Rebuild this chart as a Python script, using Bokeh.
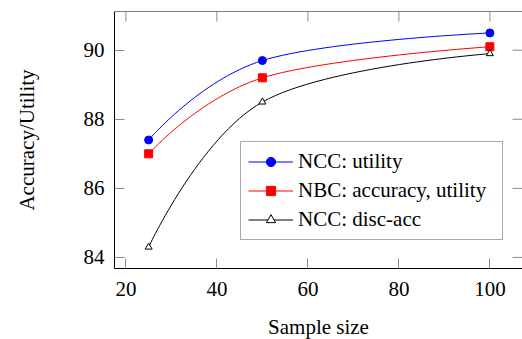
import math
from bokeh.plotting import figure
from bokeh.models import Range1d, FixedTicker, Legend, LegendItem, ColumnDataSource, Span
from bokeh.embed import file_html
from bokeh.resources import INLINE

# ---- data ----
sample_size = [25, 50, 100]
ncc_utility = [87.4, 89.7, 90.5]
nbc_acc_util = [87.0, 89.2, 90.1]
ncc_disc_acc = [84.3, 88.5, 89.9]
x_ticks = [20, 40, 60, 80, 100]
y_ticks = [84, 86, 88, 90]
series_names = ["NCC: utility", "NBC: accuracy, utility", "NCC: disc-acc"]

FONT = "Liberation Serif"
FS = "21px"
TICK_COLOR = "#8c8c8c"

x_range = Range1d(17.5, 107.17)
y_range = Range1d(83.68, 91.12)

p = figure(frame_width=408, frame_height=257, output_backend="svg",
           toolbar_location=None, x_range=x_range, y_range=y_range,
           min_border_left=114, min_border_right=0, min_border_top=11,
           min_border_bottom=0)
p.xgrid.visible = False
p.ygrid.visible = False
p.outline_line_color = None
p.background_fill_color = "white"
p.border_fill_color = "white"


def style_axis(ax, ticks, standoff):
    ax.ticker = FixedTicker(ticks=ticks)
    ax.major_tick_in = 10
    ax.major_tick_out = 0
    ax.minor_tick_in = 0
    ax.minor_tick_out = 0
    ax.major_tick_line_color = TICK_COLOR
    ax.major_tick_line_width = 1
    ax.axis_line_color = "black"
    ax.axis_line_width = 1
    ax.major_label_text_font = FONT
    ax.major_label_text_font_size = FS
    ax.major_label_text_color = "black"
    ax.major_label_standoff = standoff
    ax.axis_label_text_font = FONT
    ax.axis_label_text_font_size = FS
    ax.axis_label_text_font_style = "normal"
    ax.axis_label_text_color = "black"


style_axis(p.xaxis[0], x_ticks, 13)
style_axis(p.yaxis[0], y_ticks, 10)
p.xaxis[0].axis_label = "Sample size"
p.xaxis[0].axis_label_standoff = 16
p.yaxis[0].axis_label = "Accuracy/Utility"
p.yaxis[0].axis_label_standoff = 42

# top border of the axis box (the right border lies just past the page edge)
p.add_layout(Span(location=y_range.end, dimension="width",
                  line_color="black", line_width=1))

# mirrored inward ticks on the top and right edges (clipped at the frame)
p.scatter(x_ticks, [y_range.end] * len(x_ticks), marker="dash", size=20,
          angle=math.pi / 2, line_color=TICK_COLOR, line_width=1)
p.scatter([x_range.end] * len(y_ticks), y_ticks, marker="dash", size=20,
          line_color=TICK_COLOR, line_width=1)


def smooth_segments(xs, ys, tension=0.55 / 3):
    """TikZ-style 'smooth' Bezier segments through the data points."""
    n = len(xs)
    out = {k: [] for k in ("x0", "y0", "x1", "y1", "cx0", "cy0", "cx1", "cy1")}
    for i in range(n - 1):
        j = i + 1
        if i == 0:
            ox, oy = xs[i], ys[i]
        else:
            ox = xs[i] + tension * (xs[j] - xs[i - 1])
            oy = ys[i] + tension * (ys[j] - ys[i - 1])
        if j == n - 1:
            ix, iy = xs[j], ys[j]
        else:
            ix = xs[j] - tension * (xs[j + 1] - xs[i])
            iy = ys[j] - tension * (ys[j + 1] - ys[i])
        out["x0"].append(xs[i]); out["y0"].append(ys[i])
        out["x1"].append(xs[j]); out["y1"].append(ys[j])
        out["cx0"].append(ox); out["cy0"].append(oy)
        out["cx1"].append(ix); out["cy1"].append(iy)
    return out


styles = [
    dict(color="#0000ff", marker="circle", size=8, fill="#0000ff"),
    dict(color="#ff0000", marker="square", size=8, fill="#ff0000"),
    dict(color="black", marker="triangle", size=7, fill="white"),
]
items = []
for ys, name, st in zip([ncc_utility, nbc_acc_util, ncc_disc_acc], series_names, styles):
    seg = ColumnDataSource(smooth_segments(sample_size, ys))
    br = p.bezier(x0="x0", y0="y0", x1="x1", y1="y1", cx0="cx0", cy0="cy0",
                  cx1="cx1", cy1="cy1", source=seg, line_color=st["color"], line_width=1)
    sr = p.scatter(sample_size, ys, marker=st["marker"], size=st["size"],
                   fill_color=st["fill"], line_color=st["color"], line_width=1)
    items.append(LegendItem(label=name, renderers=[br, sr], index=0))

legend = Legend(items=items, location=(126, 28))
legend.label_text_font = FONT
legend.label_text_font_size = FS
legend.label_text_color = "black"
legend.glyph_width = 45
legend.glyph_height = 23
legend.label_height = 23
legend.label_width = 197
legend.label_standoff = 5
legend.spacing = 4
legend.padding = 7
legend.margin = 0
legend.border_line_color = "#555555"
legend.border_line_width = 1
legend.background_fill_color = "white"
legend.background_fill_alpha = 1
p.add_layout(legend, "center")

open("out.html", "w").write(file_html(p, INLINE))
